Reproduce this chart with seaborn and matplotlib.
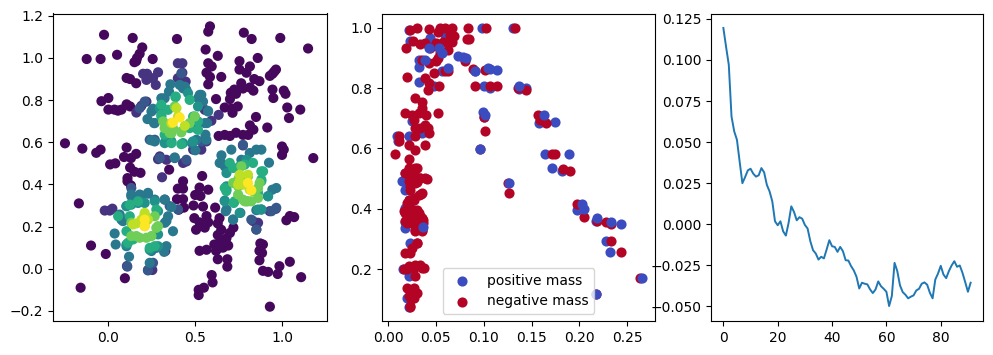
import matplotlib
matplotlib.use("Agg")
import matplotlib.pyplot as plt
import pandas as pd
import seaborn as sns

# left panel: (x, y) points grouped by how dense they look
dens_00 = [(-.025,1.11),(.14,1.095),(.395,1.09),(.585,1.15),(.575,1.125),(.78,1.12),(.825,1.09),(.99,1.095),(1.15,1.045),
           (.195,1.05),(.18,1.02),(.165,1.0),(.15,.98),(.16,.985),(.05,1.015),(-.125,.995),(-.045,.995),(.255,.995),(.56,1.04),(.63,1.01),
           (.575,.975),(.595,.96),(.565,.93),(.585,.91),(.575,.875),(.65,.91),(.755,.985),(.815,.96),(.86,1.0),(.755,.945),(.795,.93),
           (.965,.945),(.945,.925),(.93,.915),(.955,.935),(.765,.88),(.84,.90),(.87,.89),(.815,.86),(.775,.855),(.835,.845),(.725,.85),(.705,.835),
           (.70,.805),(.735,.83),(.945,.85),(1.01,.845),(1.02,.83),(.95,.81),(1.03,.765),(1.105,.755),(1.04,.715),(.85,.72),(.915,.67),
           (.67,.765),(.71,.76),(.745,.77),(.715,.74),(.62,.805),(.105,.905),(.125,.90),(.16,.88),(-.04,.795),(0.0,.81),
           (0.0,.755),(.035,.755),(.055,.75),(.075,.755),(.105,.78),(.125,.77),(-.25,.595),(-.15,.57),(-.07,.55),(-.045,.565),
           (.105,.575),(.16,.545),(.09,.53),(.13,.525),(.01,.495),(.04,.50),(.125,.48),(.15,.46),(.185,.455),(.11,.43),(.11,.415),(.13,.395),
           (-.17,.31),(.35,.47),(.43,.415),(.40,.38),(.43,.38),(.575,.375),(.54,.44),(.525,.385),(.50,.35),(.53,.345),(.49,.30),(.545,.295),
           (.395,.33),(.43,.33),(.405,.28),(.435,.29),(.615,.29),(.495,.24),(.525,.22),(.505,.185),(.565,.25),(.575,.22),(.555,.195),
           (.64,.24),(.63,.215),(.65,.185),(.72,.195),(.70,.17),(.63,.16),(.68,.145),(.64,.125),(.61,.115),(.69,.11),(.66,.10),(.64,.10),
           (.525,.085),(.565,.09),(.62,.085),(.63,.045),(.685,.045),(.685,.01),(.595,-.03),(.60,-.065),(.55,-.09),(.52,-.10),(.52,-.125),
           (.93,-.18),(-.16,-.09),(-.10,.11),(-.015,.07),(.095,-.045),(.875,.12),(.89,.115),(.87,.085),(.885,.075),(.87,.04),
           (.89,-.01),(.92,-.015),(.985,.012),(.975,-.025),(1.045,.033),(1.11,-.04),(1.025,.23),(1.045,.25),(1.07,.245),(1.18,.525),
           (1.0,.58),(1.01,.565),(1.0,.54),(.815,.68),(.835,.66),(.805,.635),(.775,.635),(.735,.645),(.70,.63),(.67,.635),(.635,.63)]
dens_15 = [(.426,.975),(.40,.975),(.426,.93),(.40,.904),(.445,.888),(.20,.925),(.223,.925),(.286,.932),(.219,.896),(.257,.904),(.273,.872),
           (.219,.793),(.19,.773),(.161,.741),(-.021,.276),(.008,.276),(.023,.285),(.107,.013),(.228,-.006),(.253,-.006),
           (.852,.186),(.833,.226),(.862,.218),(.929,.273),(.964,.284),(.449,.509),(.43,.502),(.296,.533),(.286,.52),(.334,.517),
           (.775,.585),(.564,.604),(.535,.565),(.488,.565),(.555,.754),(.635,.73),(.593,.702),(.309,.434),(.328,.084)]
dens_25 = [(.42,.927),(.536,.604),(.267,.612),(.238,.612),(.209,.793),(.18,.762),(.296,.525),(.382,.525),(.449,.517),
           (.823,.233),(.852,.186),(.718,.233),(.939,.273),(.967,.289),(.775,.588),(.325,.328),(.353,.297),(.401,.281),
           (.257,.028),(.109,.01),(.228,-.008),(.132,.383)]
dens_40 = [(.357,.875),(.449,.849),(.43,.856),(.535,.825),(.516,.809),(.305,.809),(.257,.759),(.248,.746),(.225,.71),(.263,.691),(.574,.749),
           (.555,.691),(.507,.667),(.559,.636),(.482,.596),(.501,.562),(.248,.609),(.267,.604),(.328,.604),(.382,.528),(.651,.538),(.708,.565),
           (.814,.549),(.852,.565),(.881,.565),(.925,.503),(.651,.502),(.679,.478),(.967,.383),(.944,.375),(.919,.344),(.852,.278),(.881,.281),
           (.76,.265),(.676,.273),(.67,.323),(.718,.233),(.324,.328),(.363,.293),(.267,.328),(.228,.356),(.19,.347),(.132,.344),(.104,.297),
           (.065,.249),(.075,.233),(.036,.167),(.042,.115),(.104,.107),(.119,.057),(.238,.028),(.321,.08),(.276,.099),(.344,.249),(.334,.226),(.372,.178),
           (.257,.754),(.267,.691),(.324,.809),(.349,.841),(.411,.872),(.44,.864),(.568,.691),(.526,.825),(.545,.793),(.574,.746),(.564,.612),(.507,.612),
           (.766,.517),(.67,.486),(.641,.502),(.68,.281),(.132,.352),(.18,.352),(.228,.36),(.065,.257),(.084,.226),(.325,.218),(.248,.084),(.334,.107)]
dens_50 = [(.363,.604),(.43,.596),(.324,.596),(.487,.604),(.459,.833),(.296,.762),(.516,.770),(.68,.391),(.68,.375),(.795,.517),(.68,.454),
           (.92,.344),(.862,.281),(.881,.281),(.756,.265),(.67,.32),(.286,.163),(.209,.312),(.171,.312),(.267,.32),(.286,.273),(.104,.115),(.286,.107),
           (.238,.09),(.132,.304),(.104,.297)]
dens_60 = [(.386,.814),(.305,.778),(.305,.73),(.468,.801),(.363,.596),(.324,.636),(.42,.591),(.488,.722),(.516,.699),(.699,.502),(.67,.383),
           (.679,.368),(.722,.312),(.795,.32),(.891,.462),(.881,.415),(.862,.36),(.276,.281),(.171,.32),(.123,.304),(.056,.249),(.104,.178),
           (.113,.123),(.142,.139),(.267,.107),(.238,.099),(.785,.494),(.756,.486),(.305,.722),(.344,.754),(.388,.817),(.497,.722),(.516,.659),(.468,.667),
           (.881,.423),(.881,.462),(.833,.502),(.718,.478),(.727,.32),(.123,.249)]
dens_78 = [(.353,.644),(.372,.667),(.42,.651),(.468,.691),(.497,.722),(.324,.667),(.315,.699),(.756,.438),(.747,.391),(.775,.328),(.804,.32),
           (.804,.438),(.871,.407),(.18,.147),(.161,.155),(.219,.147),(.248,.155),(.286,.202),(.267,.249),(.209,.257),(.132,.218),(.747,.423),(.833,.368),
           (.363,.643),(.42,.647),(.382,.770),(.766,.486),(.718,.407),(.747,.352),(.862,.383),(.785,.32),(.823,.32),(.862,.336),(.276,.194),(.132,.155)]
dens_92 = [(.392,.762),(.401,.722),(.363,.691),(.44,.678),(.756,.415),(.775,.399),(.814,.375),(.209,.265),(.161,.215),(.209,.202),(.19,.233),(.228,.233),
           (.804,.446),(.756,.446),(.747,.399),(.142,.21),(.209,.249)]
dens_100 = [(.411,.718),(.372,.694),(.804,.407),(.823,.372),(.209,.202),(.209,.233)]
dens_groups = [(0.02, dens_00), (0.15, dens_15), (0.27, dens_25), (0.4, dens_40), (0.5, dens_50), (0.62, dens_60),
               (0.78, dens_78), (0.9, dens_92), (1.0, dens_100)]

# middle panel: blue under the red, then a few blue ones that ended up on top
pos_under = [(.131,1.0),(.0985,1.0),(.107,.862),(.1135,.86),(.091,.855),(.1007,.808),(.1066,.80),(.137,.797),(.144,.80),(.0997,.72),(.1007,.704),
             (.158,.684),(.1747,.689),(.164,.581),(.189,.581),(.171,.535),(.182,.526),(.198,.397),(.217,.359),(.243,.351),(.228,.293),(.232,.256),
             (.0215,.992),(.044,.96),(.044,.965),(.06,.976),(.0233,.957),(.032,.893),(.0329,.871),(.0329,.819),(.0476,.808),(.0563,.855),
             (.0094,.64),(.0104,.623),(.0215,.64),(.025,.691),(.0354,.651),(.018,.49),(.018,.518),(.0146,.491),(.018,.463),(.0215,.43),(.018,.403),
             (.018,.357),(.018,.335),(.0233,.285),(.0215,.177),(.016,.199),(.0198,.105),(.0215,.075)]
neg = [(.133,1.0),(.1024,1.0),(.101,.86),(.0885,.862),(.091,.808),(.1066,.808),(.1135,.808),(.136,.80),(.144,.794),(.1007,.704),(.1014,.658),(.096,.597),
       (.157,.709),(.1587,.695),(.165,.684),(.171,.581),(.175,.581),(.183,.533),(.19,.526),(.1254,.484),(.126,.451),(.198,.417),(.205,.373),(.2184,.359),
       (.228,.355),(.2326,.351),(.2326,.293),(.243,.256),(.263,.171),(.217,.116),(.0833,1.0),(.083,.963),(.085,.963),(.0806,.895),(.0806,.888),
       (.030,1.0),(.0233,.992),(.0424,.996),(.0545,.998),(.06,1.0),(.0667,1.0),(.069,.974),(.052,.985),(.065,.976),(.0667,.954),
       (.019,.932),(.0257,.957),(.0337,.945),(.039,.948),(.044,.934),(.050,.948),(.058,.954),(.063,.95),(.063,.926),(.0545,.915),
       (.050,.89),(.052,.899),(.0354,.893),(.0424,.882),(.0476,.849),(.039,.832),(.0424,.816),(.0417,.792),(.0198,.838),(.053,.808),(.06,.855),(.063,.858),
       (.0285,.766),(.0354,.755),(.0354,.733),(.032,.717),(.052,.717),(.018,.717),(.025,.711),(.040,.711),(.0267,.695),(.0285,.667),(.039,.678),
       (.0417,.667),(.0424,.651),(.0337,.667),(.011,.64),(.012,.623),(.0285,.64),(.039,.61),(.007,.582),(.0285,.596),(.0215,.61),(.0215,.565),
       (.0285,.535),(.0215,.535),(.018,.518),(.0233,.518),(.0285,.507),(.0406,.5),(.0337,.502),(.0215,.491),(.0233,.463),(.0347,.45),(.0267,.43),
       (.0198,.419),(.0233,.403),(.030,.397),(.018,.386),(.025,.375),(.0337,.375),(.037,.364),(.0198,.353),(.0285,.331),(.0354,.331),(.030,.285),(.025,.27),
       (.018,.254),(.0233,.254),(.0354,.204),(.0285,.215),(.0215,.21),(.0198,.199),(.0285,.177),(.0198,.138),(.0267,.138),(.030,.122),(.0215,.111),(.0267,.105),
       (.0233,.075),(.025,.49),(.030,.49),(.0233,.39),(.0267,.36),(.030,.35),(.0215,.37),
       (.0389,.502),(.0337,.502),(.0267,.496),(.0198,.518),(.0267,.53),(.030,.535),(.0354,.452),(.032,.447),(.0233,.474),(.0285,.485),
       (.0215,.43),(.0267,.436),(.0163,.392),(.0267,.397),(.032,.386),(.0354,.37),(.037,.353),(.018,.359),(.025,.353),(.0285,.326),(.0354,.326),(.0267,.375),
       (.030,.287),(.0163,.199),(.0337,.215),(.0372,.204),(.0267,.204),(.0233,.078),(.0285,.12),(.0245,.102)]
pos_over = [(.137,.807),(.101,.711),(.096,.597),(.1635,.709),(.126,.484),(.203,.417),(.205,.40),(.2184,.37),(.2326,.355),(.2653,.171),(.217,.116),(.037,.339),
            (.0424,.932),(.0528,.932),(.056,.915),(.0389,.893),(.063,.868),(.0736,.907),(.078,.902),(.0816,.899),(.091,.855),(.105,.866)]

# right panel
steps = list(range(92))
loss = [.1195,.108,.097,.0656,.0565,.0514,.038,.025,.0287,.0328,.0338,.0308,.029,.0298,.0342,.0316,.024,.02,.014,.0018,
        -.0006,.0018,-.0043,-.0069,.0008,.0109,.0075,.0024,.0043,.0034,-.0004,-.0026,-.0103,-.0158,-.0178,-.0215,-.0198,-.0208,-.0154,-.0097,
        -.0134,-.0138,-.0168,-.0138,-.0164,-.0219,-.0221,-.0255,-.0281,-.032,-.0391,-.0356,-.0362,-.0366,-.0397,-.0419,-.0397,-.0348,-.0377,-.0393,
        -.0411,-.0498,-.0437,-.0235,-.0285,-.0372,-.0413,-.0429,-.0451,-.0441,-.0433,-.0403,-.0393,-.0362,-.0354,-.0368,-.0417,-.0451,-.0336,-.03,
        -.0253,-.0306,-.0328,-.0285,-.0251,-.0225,-.0259,-.0251,-.0296,-.0352,-.0411,-.0356]

rows = [(x, y, lvl) for lvl, pts in dens_groups for x, y in pts]
df = pd.DataFrame(rows, columns=["x", "y", "density"])

blue = "#3b4cc0"
red = "#b40426"
dot = dict(s=36, linewidth=1.3, edgecolor="face")

fig, axes = plt.subplots(1, 3, figsize=(9.93, 3.55), dpi=100)
axes[0].set_position([53 / 993, 34 / 355, 274 / 993, 307.5 / 355])
axes[1].set_position([382 / 993, 34 / 355, 273 / 993, 307.5 / 355])
axes[2].set_position([711 / 993, 34 / 355, 272 / 993, 307.5 / 355])

ax = axes[0]
sns.scatterplot(data=df, x="x", y="y", hue="density", palette="viridis", hue_norm=(0, 1), legend=False, ax=ax, **dot)
ax.set_xlim(-.319, 1.259)
ax.set_ylim(-.248, 1.211)
ax.set_xticks([0, .5, 1])

ax = axes[1]
sns.scatterplot(x=[p[0] for p in pos_under], y=[p[1] for p in pos_under], color=blue, ax=ax, legend=False, **dot)
sns.scatterplot(x=[p[0] for p in neg], y=[p[1] for p in neg], color=red, ax=ax, legend=False, **dot)
sns.scatterplot(x=[p[0] for p in pos_over], y=[p[1] for p in pos_over], color=blue, ax=ax, legend=False, **dot)
ax.set_xlim(-.00625, .279)
ax.set_ylim(.028, 1.047)
# legend gets its handles from the collections, blue first
ax.legend(ax.collections[:2], ["positive mass", "negative mass"], loc="lower center")

sns.lineplot(x=steps, y=loss, ax=axes[2], linewidth=1.4)
axes[2].set_xlim(-4.55, 95.55)
axes[2].set_ylim(-.0589, .1283)

for ax in axes:
    ax.set_xlabel("")
    ax.set_ylabel("")

plt.savefig("out.png", dpi=100)
